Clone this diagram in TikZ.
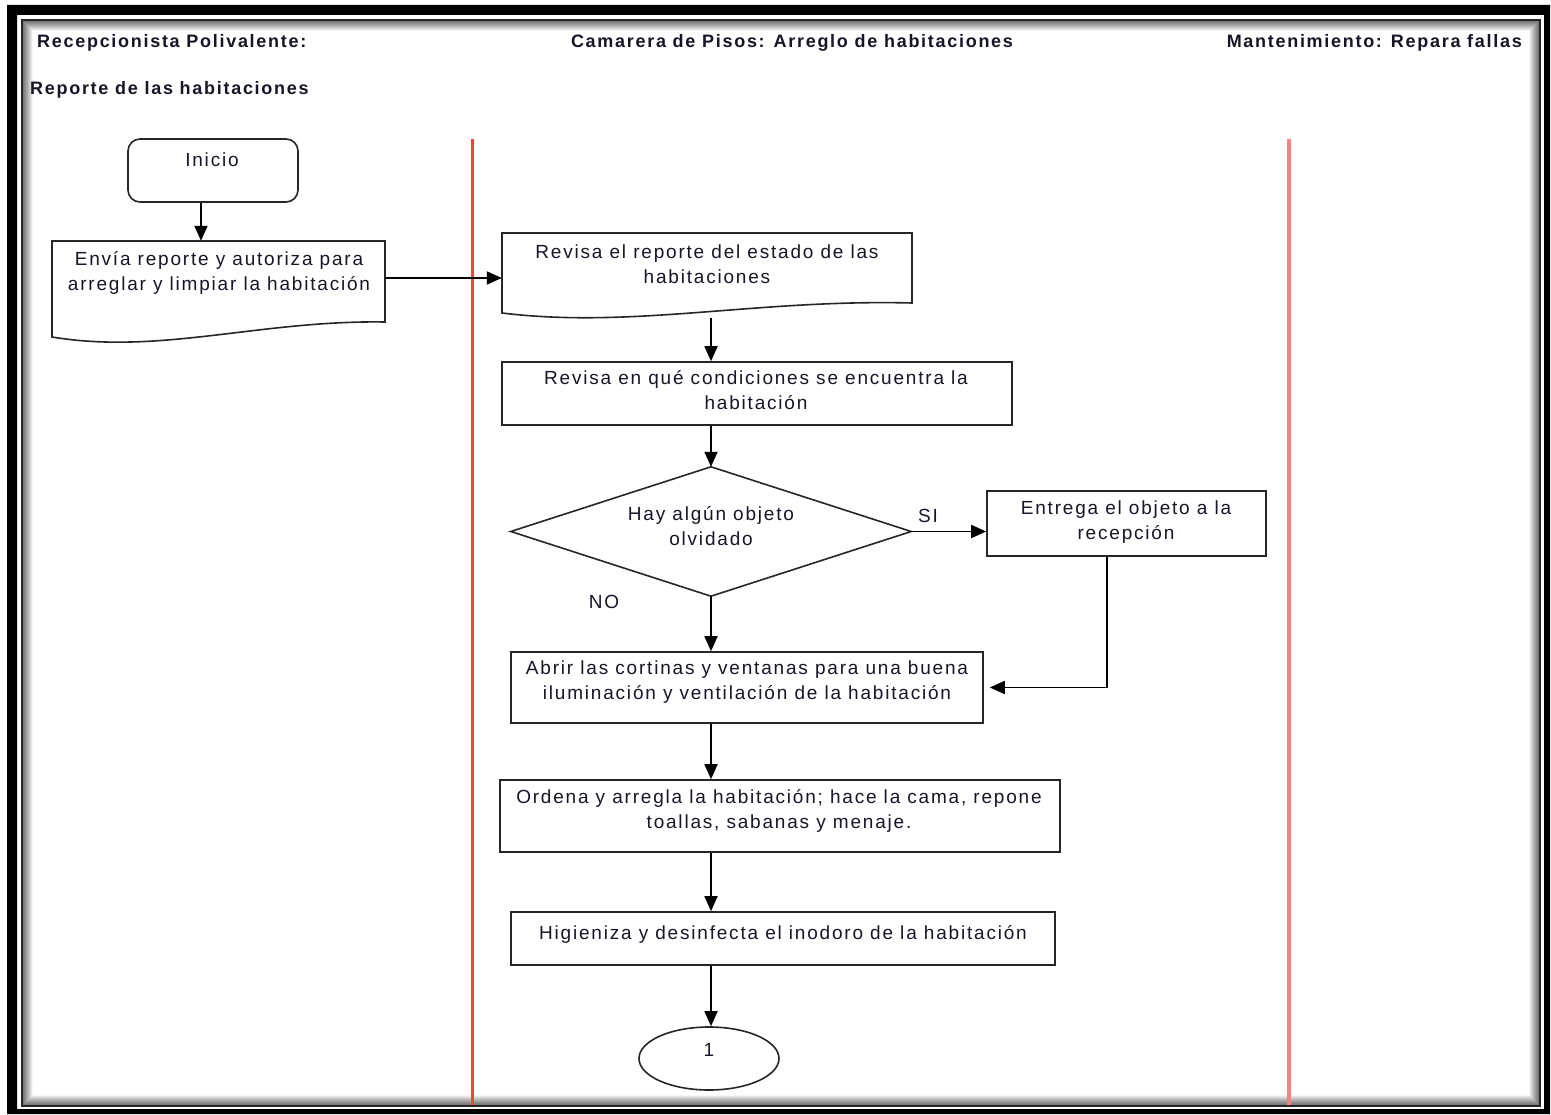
\documentclass[tikz,border=0pt]{standalone}
\usepackage{fontspec}
\setmainfont{Liberation Sans}[LetterSpace=9.5]
\usetikzlibrary{arrows.meta,shapes.geometric}
\definecolor{ink}{RGB}{22,22,40}
\definecolor{edge}{RGB}{38,38,38}
\definecolor{laneA}{RGB}{255,64,64}
\definecolor{laneB}{RGB}{255,128,128}
\begin{document}
\begin{tikzpicture}[x=1pt,y=-1pt,
  txt/.style={font=\fontsize{19}{25}\selectfont, text=ink, align=center, inner sep=0pt},
  hdr/.style={font=\bfseries\fontsize{18}{25}\selectfont, text=ink, inner sep=0pt},
  outline/.style={draw=edge, line width=1.6pt},
  box/.style={outline, inner sep=0pt},
  anchorbox/.style={draw=none, inner sep=0pt},
  arr/.style={draw=black, line width=1.8pt, -{Triangle[length=15pt,width=13pt]}},
  lbl/.style={font=\fontsize{19}{20}\selectfont, text=ink, inner sep=0pt}
]
\useasboundingbox (0,0) rectangle (1551,1115);
\fill[white] (0,0) rectangle (1551,1115);

% page frame: heavy black border, thin inner rule and soft inner shadow
\fill[black, even odd rule] (7,5) rectangle (1550,1114) (17,15) rectangle (1544,1109);
\foreach \i [evaluate=\i as \op using 0.36*(1-\i/11)] in {1,...,10}
  \draw[black, opacity=\op, line width=1.1pt] (22+\i,20+\i) rectangle (1540-\i,1106-\i);
\draw[black!85, line width=2.5pt] (22,20) rectangle (1540,1106);

% swim lane separators
\draw[laneA, line width=3pt] (472,139) -- (472,1105);
\draw[laneB, line width=4pt] (1289,139) -- (1289,1105);

% lane headings
\node[hdr, anchor=west] (h1) at (37,43) {Recepcionista Polivalente:};
\node[hdr] (h2) at (792,43) {Camarera de Pisos: Arreglo de habitaciones};
\node[hdr, anchor=east] (h3) at (1522,43) {Mantenimiento: Repara fallas};
\node[hdr, anchor=west] (h4) at (30,90) {Reporte de las habitaciones};

% start terminal
\node[box, rounded corners=12pt, minimum width=170pt, minimum height=63pt] (inicio) at (213,170.5) {};
\node[txt] (t-inicio) at (212,160) {Inicio};

% document 1
\node[anchorbox, minimum width=333pt, minimum height=96pt] (doc1) at (218.5,289) {};
\draw[outline] (52,241) -- (385,241) -- (385,322)
  .. controls (260,320) and (160,355) .. (52,337) -- cycle;
\node[txt] (t-doc1) at (219,272.5) {Envía reporte y autoriza para\\arreglar y limpiar la habitación};

% document 2
\node[anchorbox, minimum width=410pt, minimum height=85pt] (doc2) at (707,275.5) {};
\draw[outline] (502,233) -- (912,233) -- (912,303)
  .. controls (756,299) and (633,329) .. (502,313) -- cycle;
\node[txt] (t-doc2) at (707,264.5) {Revisa el reporte del estado de las\\habitaciones};

% process steps
\node[box, minimum width=510pt, minimum height=63pt] (r3) at (757,393.5) {};
\node[txt] (t-r3) at (756,390.5) {Revisa en qué condiciones se encuentra la\\habitación};

\node[anchorbox, minimum width=400pt, minimum height=129pt] (diam) at (711,531.5) {};
\draw[outline] (diam.west) -- (diam.north) -- (diam.east) -- (diam.south) -- cycle;
\node[txt] (t-diam) at (711,526.5) {Hay algún objeto\\olvidado};

\node[box, minimum width=279pt, minimum height=65pt] (ent) at (1126.5,523.5) {};
\node[txt] (t-ent) at (1126,522.5) {Entrega el objeto a la\\recepción};

\node[box, minimum width=472pt, minimum height=71pt] (abrir) at (747,687.5) {};
\node[txt] (t-abrir) at (747,682.5) {Abrir las cortinas y ventanas para una buena\\iluminación y ventilación de la habitación};

\node[box, minimum width=560pt, minimum height=72pt] (ord) at (780,816) {};
\node[txt] (t-ord) at (779,810.5) {Ordena y arregla la habitación; hace la cama, repone\\toallas, sabanas y menaje.};

\node[box, minimum width=544pt, minimum height=53pt] (hig) at (783,938.5) {};
\node[txt] (t-hig) at (783,934) {Higieniza y desinfecta el inodoro de la habitación};

% connector to next page
\node[box, ellipse, minimum width=140pt, minimum height=63pt] (fin) at (709,1058.5) {};
\node[txt] (t-fin) at (709,1050) {1};

% branch labels
\node[lbl] (si) at (928,516) {SI};
\node[lbl] (no) at (604,602) {NO};

% flow
\draw[arr] ([xshift=-12pt]inicio.south) -- ([xshift=-12pt]inicio.south |- doc1.north);
\coordinate (d1out) at ([yshift=11pt]doc1.east);
\draw[arr] (d1out) -- (d1out -| doc2.west);
\draw[arr] (diam.north |- doc2.south) -- (diam.north |- r3.north);
\draw[arr] (diam.north |- r3.south) -- (diam.north);
\draw[arr] (diam.east) -- (diam.east -| ent.west);
\draw[arr] ([xshift=-19.5pt]ent.south) |- ([xshift=6pt]abrir.east);
\draw[arr] (diam.south) -- (diam.south |- abrir.north);
\draw[arr] (diam.south |- abrir.south) -- (diam.south |- ord.north);
\draw[arr] (diam.south |- ord.south) -- (diam.south |- hig.north);
\draw[arr] (diam.south |- hig.south) -- (diam.south |- fin.north);
\end{tikzpicture}
\end{document}
